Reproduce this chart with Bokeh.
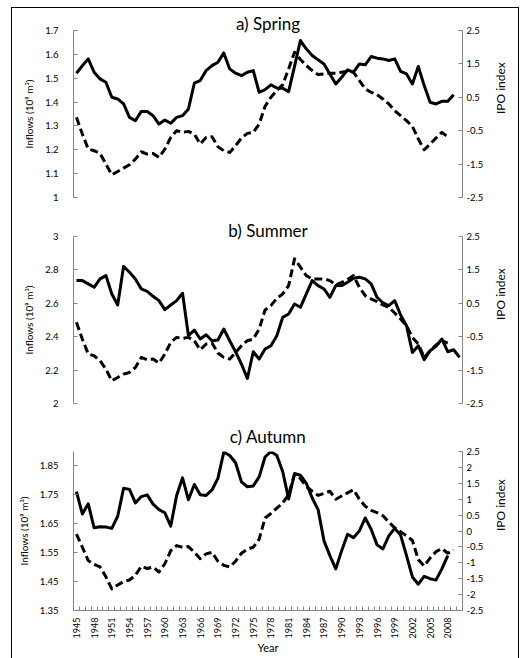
import math
from bokeh.plotting import figure
from bokeh.models import Range1d, LinearAxis, FixedTicker, CustomJSTickFormatter
from bokeh.layouts import column
from bokeh.embed import file_html
from bokeh.resources import INLINE

# ---------------- data ----------------
years = list(range(1945, 2011))

spring_inflow = [1.521, 1.552, 1.581, 1.525, 1.497, 1.483, 1.420, 1.413, 1.392, 1.336,
                 1.322, 1.361, 1.361, 1.343, 1.308, 1.325, 1.311, 1.336, 1.343, 1.371,
                 1.479, 1.490, 1.532, 1.553, 1.567, 1.606, 1.539, 1.521, 1.511, 1.525,
                 1.532, 1.441, 1.452, 1.472, 1.459, 1.458, 1.444, 1.550, 1.658, 1.623,
                 1.595, 1.577, 1.560, 1.518, 1.476, 1.504, 1.535, 1.525, 1.560, 1.556,
                 1.591, 1.584, 1.581, 1.574, 1.581, 1.529, 1.518, 1.476, 1.549, 1.469,
                 1.399, 1.392, 1.403, 1.403, 1.431]
spring_ipo = [-0.10, -0.60, -1.05, -1.10, -1.18, -1.50, -1.82, -1.72, -1.62, -1.52,
              -1.35, -1.13, -1.20, -1.18, -1.30, -1.05, -0.70, -0.50, -0.55, -0.52,
              -0.60, -0.90, -0.70, -0.68, -0.98, -1.10, -1.15, -0.95, -0.72, -0.58,
              -0.55, -0.30, 0.23, 0.50, 0.70, 0.88, 1.35, 1.85, 1.63, 1.45,
              1.30, 1.18, 1.20, 1.22, 1.22, 1.25, 1.28, 1.25, 1.00, 0.75,
              0.65, 0.58, 0.45, 0.30, 0.10, -0.05, -0.20, -0.37, -0.75, -1.07,
              -0.90, -0.72, -0.55, -0.68]

summer_inflow = [2.736, 2.736, 2.716, 2.696, 2.746, 2.766, 2.656, 2.590, 2.822, 2.786,
                 2.746, 2.686, 2.672, 2.642, 2.616, 2.562, 2.590, 2.616, 2.660, 2.406,
                 2.440, 2.386, 2.412, 2.376, 2.380, 2.446, 2.376, 2.310, 2.236, 2.150,
                 2.310, 2.266, 2.326, 2.346, 2.406, 2.516, 2.536, 2.596, 2.576, 2.656,
                 2.736, 2.706, 2.686, 2.636, 2.706, 2.706, 2.726, 2.750, 2.756, 2.746,
                 2.716, 2.636, 2.602, 2.586, 2.616, 2.530, 2.466, 2.306, 2.346, 2.262,
                 2.316, 2.342, 2.386, 2.310, 2.322, 2.276]
summer_ipo = [-0.07, -0.57, -1.02, -1.07, -1.22, -1.47, -1.82, -1.72, -1.62, -1.57,
              -1.42, -1.12, -1.19, -1.17, -1.29, -1.02, -0.67, -0.52, -0.55, -0.52,
              -0.62, -0.89, -0.72, -0.69, -0.99, -1.12, -1.17, -0.97, -0.77, -0.62,
              -0.57, -0.27, 0.30, 0.43, 0.65, 0.78, 1.03, 1.83, 1.58, 1.33,
              1.23, 1.23, 1.23, 1.18, 1.05, 1.13, 1.21, 1.33, 0.98, 0.73,
              0.63, 0.55, 0.45, 0.38, 0.21, 0.03, -0.17, -0.52, -0.72, -1.12,
              -0.92, -0.75, -0.62, -0.69]

autumn_inflow = [1.761, 1.684, 1.719, 1.636, 1.640, 1.639, 1.634, 1.676, 1.773, 1.769,
                 1.722, 1.744, 1.750, 1.718, 1.699, 1.688, 1.642, 1.748, 1.809, 1.733,
                 1.786, 1.750, 1.748, 1.767, 1.807, 1.898, 1.886, 1.861, 1.795, 1.778,
                 1.781, 1.812, 1.881, 1.900, 1.886, 1.830, 1.736, 1.824, 1.818, 1.790,
                 1.739, 1.699, 1.591, 1.540, 1.494, 1.557, 1.614, 1.602, 1.625, 1.670,
                 1.631, 1.577, 1.563, 1.608, 1.634, 1.611, 1.540, 1.466, 1.441, 1.468,
                 1.460, 1.455, 1.494, 1.540]
autumn_ipo = [-0.10, -0.51, -0.93, -1.05, -1.13, -1.44, -1.82, -1.70, -1.59, -1.54,
              -1.39, -1.11, -1.18, -1.13, -1.29, -1.03, -0.62, -0.46, -0.51, -0.49,
              -0.67, -0.87, -0.72, -0.67, -0.95, -1.08, -1.13, -0.95, -0.70, -0.57,
              -0.51, -0.26, 0.41, 0.55, 0.72, 0.88, 1.15, 1.78, 1.65, 1.40,
              1.25, 1.12, 1.18, 1.25, 1.00, 1.10, 1.20, 1.30, 1.00, 0.78,
              0.65, 0.58, 0.48, 0.28, 0.10, -0.02, -0.15, -0.30, -0.90, -1.10,
              -0.85, -0.65, -0.55, -0.70, -0.60]

spring_ticks = [1.0, 1.1, 1.2, 1.3, 1.4, 1.5, 1.6, 1.7]
summer_ticks = [2.0, 2.2, 2.4, 2.6, 2.8, 3.0]
autumn_ticks = [1.35, 1.45, 1.55, 1.65, 1.75, 1.85]
ipo_ticks_ab = [-2.5, -1.5, -0.5, 0.5, 1.5, 2.5]
ipo_ticks_c = [-2.5, -2.0, -1.5, -1.0, -0.5, 0.0, 0.5, 1.0, 1.5, 2.0, 2.5]
year_ticks = list(range(1945, 2009, 3))

titles = ["a) Spring", "b) Summer", "c) Autumn"]
y_label = "Inflows (10\u2079 m\u00b3)"
y2_label = "IPO index"
x_label = "Year"

# ---------------- layout / style ----------------
FONT = "Lato"
AXIS_COL = "#868686"
W = 506
FL, FR = 61, 51
X0, X1 = 1944.5, 2010.5

fmt = CustomJSTickFormatter(code="return String(Math.round(tick*100)/100);")


def make_panel(inflow, ipo, yr, lticks, rticks, height, top, bottom,
               title, title_offset, title_standoff, show_x=False):
    p = figure(width=W, height=height, x_range=Range1d(X0, X1), y_range=Range1d(*yr),
               output_backend="svg", toolbar_location=None,
               x_axis_location="below" if show_x else None,
               min_border_left=FL, min_border_right=FR,
               min_border_top=top, min_border_bottom=bottom,
               title=title, title_location="above")
    p.extra_y_ranges = {"ipo": Range1d(-2.5, 2.5)}
    p.outline_line_color = None
    p.grid.visible = False
    p.background_fill_color = "white"
    p.border_fill_color = "white"

    t = p.title
    t.align = "center"
    t.offset = title_offset
    t.standoff = title_standoff
    t.text_font = FONT
    t.text_font_size = "17px"
    t.text_font_style = "normal"
    t.text_color = "black"

    ax = p.yaxis[0]
    ax.ticker = FixedTicker(ticks=lticks)
    ax.formatter = fmt
    ax.axis_label = y_label
    ax.axis_label_standoff = 7
    ax.axis_label_text_font_size = "10px"

    r_ax = LinearAxis(y_range_name="ipo", ticker=FixedTicker(ticks=rticks), formatter=fmt)
    r_ax.axis_label = y2_label
    r_ax.axis_label_standoff = 14
    r_ax.axis_label_text_font_size = "12px"
    r_ax.axis_label_orientation = math.pi / 2
    p.add_layout(r_ax, "right")

    for a, stand in [(ax, 15), (r_ax, 4)]:
        a.axis_line_color = AXIS_COL
        a.major_tick_line_color = AXIS_COL
        a.major_tick_in = 4
        a.major_tick_out = 0
        a.minor_tick_line_color = None
        a.minor_tick_in = 0
        a.minor_tick_out = 0
        a.major_label_text_font = FONT
        a.major_label_text_font_size = "9.5px"
        a.major_label_text_color = "black"
        a.major_label_standoff = stand
        a.axis_label_text_font = FONT
        a.axis_label_text_font_style = "normal"
        a.axis_label_text_color = "black"

    if show_x:
        xa = p.xaxis[0]
        xa.ticker = FixedTicker(ticks=year_ticks,
                                minor_ticks=[y - 0.5 for y in years] + [years[-1] + 0.5])
        xa.major_tick_line_color = None
        xa.major_tick_in = 0
        xa.major_tick_out = 0
        xa.minor_tick_line_color = AXIS_COL
        xa.minor_tick_in = 4
        xa.minor_tick_out = 0
        xa.axis_line_color = AXIS_COL
        xa.major_label_orientation = math.pi / 2
        xa.major_label_text_font = FONT
        xa.major_label_text_font_size = "9px"
        xa.major_label_text_color = "black"
        xa.major_label_standoff = 7
        xa.axis_label = x_label
        xa.axis_label_standoff = 0
        xa.axis_label_text_font = FONT
        xa.axis_label_text_font_size = "11px"
        xa.axis_label_text_font_style = "normal"
        xa.axis_label_text_color = "black"

    p.line(years[:len(inflow)], inflow, line_width=3, line_color="black", line_join="round")
    p.line(years[:len(ipo)], ipo, y_range_name="ipo", line_width=3, line_color="black",
           line_dash="8 4", line_join="round")
    return p


pa = make_panel(spring_inflow, spring_ipo, (1.0, 1.7), spring_ticks, ipo_ticks_ab,
                207, 22, 18, titles[0], 20, -6)
pb = make_panel(summer_inflow, summer_ipo, (2.0, 3.0), summer_ticks, ipo_ticks_ab,
                204, 21, 16, titles[1], 12, -8)
pc = make_panel(autumn_inflow, autumn_ipo, (1.35, 1.9), autumn_ticks, ipo_ticks_c,
                239, 30, 48, titles[2], 14, 9, show_x=True)

layout = column(pa, pb, pc, spacing=0,
                styles={"margin-left": "11px", "margin-top": "7px",
                        "border-top": "1px solid black", "border-left": "1px solid black",
                        "border-right": "1px solid black"})

open("out.html", "w").write(file_html(layout, INLINE))
